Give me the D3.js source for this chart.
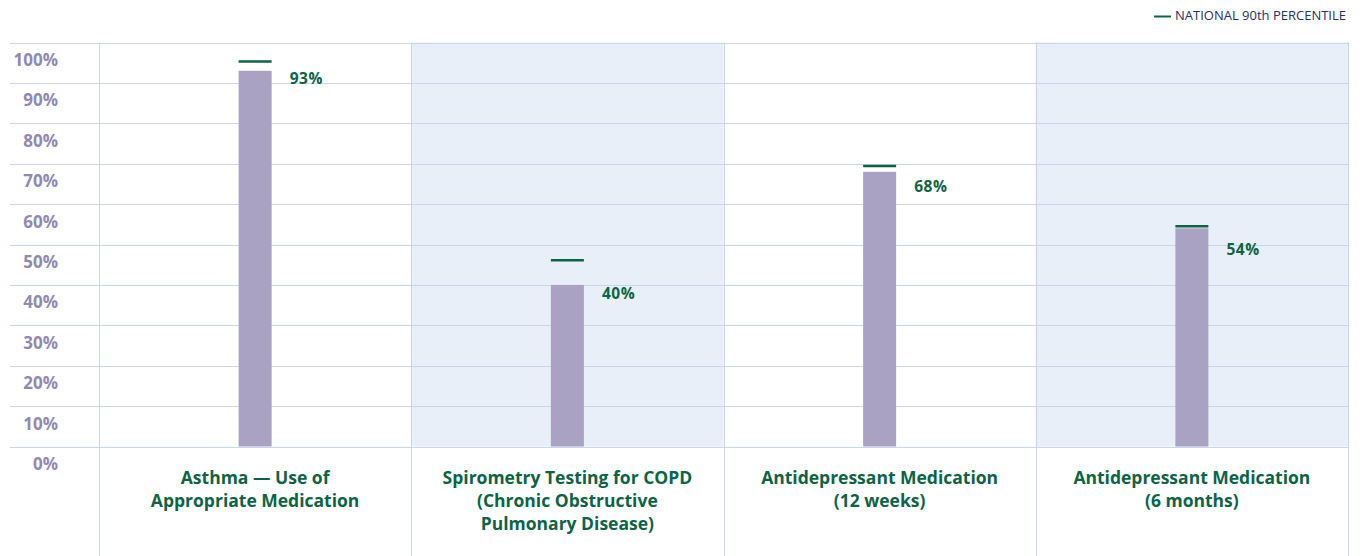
<!DOCTYPE html>
<html>
<head>
<meta charset="utf-8">
<script src="https://cdn.jsdelivr.net/npm/d3@7"></script>
<style>
  html, body { margin: 0; padding: 0; background: #ffffff; }
  svg { display: block; font-family: "Open Sans", "Noto Sans", sans-serif; }
</style>
</head>
<body>
<svg id="chart" width="1360" height="556"></svg>
<script>
// Measures (percent of members receiving care)
const categories = [
  "Asthma — Use of|Appropriate Medication",
  "Spirometry Testing for COPD|(Chronic Obstructive|Pulmonary Disease)",
  "Antidepressant Medication|(12 weeks)",
  "Antidepressant Medication|(6 months)"
];
const planValues = [93, 40, 68, 54];
const national90th = [95.3, 46.1, 69.4, 54.5];
const yTicks = [0, 10, 20, 30, 40, 50, 60, 70, 80, 90, 100];
const legendLabel = "NATIONAL 90th PERCENTILE";

const W = 1360, H = 556;
const plot = { left: 99, right: 1348, top: 42.5, bottom: 446.5 };
// baseline drop of each value label below its bar top (px)
const labelDrop = [13, 14, 20, 27];

const svg = d3.select("#chart");

const x = d3.scaleBand()
  .domain(categories)
  .range([plot.left, plot.right])
  .padding(0);

const y = d3.scaleLinear()
  .domain([0, 100])
  .range([plot.bottom, plot.top]);

const gridColor = "#c6d6ec";
const bandFill = "#e8eff9";
const green = "#0b6446";
const barColor = "#a9a2c2";
const barWidth = 33;

// alternating shaded bands
svg.append("g")
  .selectAll("rect")
  .data(categories.filter((d, i) => i % 2 === 1))
  .join("rect")
  .attr("x", d => x(d))
  .attr("y", plot.top)
  .attr("width", x.bandwidth())
  .attr("height", plot.bottom - plot.top)
  .attr("fill", bandFill);

// horizontal grid lines
svg.append("g")
  .selectAll("line")
  .data(yTicks)
  .join("line")
  .attr("x1", 10)
  .attr("x2", plot.right)
  .attr("y1", d => Math.round(y(d)) + 0.5)
  .attr("y2", d => Math.round(y(d)) + 0.5)
  .attr("stroke", gridColor)
  .attr("stroke-width", 1);

// vertical band separators
const seps = categories.map(d => x(d)).concat([plot.right]);
svg.append("g")
  .selectAll("line")
  .data(seps)
  .join("line")
  .attr("x1", d => Math.round(d) + 0.5)
  .attr("x2", d => Math.round(d) + 0.5)
  .attr("y1", plot.top)
  .attr("y2", H)
  .attr("stroke", gridColor)
  .attr("stroke-width", 1);

// y-axis tick labels (sit just below their grid line)
svg.append("g")
  .selectAll("text")
  .data(yTicks)
  .join("text")
  .attr("x", 58)
  .attr("y", d => y(d) + 19)
  .attr("text-anchor", "end")
  .attr("dominant-baseline", "middle")
  .attr("font-size", 17)
  .attr("font-weight", 700)
  .attr("fill", "#9189b3")
  .text(d => d + "%");

// bars
svg.append("g")
  .selectAll("rect")
  .data(categories)
  .join("rect")
  .attr("x", d => x(d) + x.bandwidth() / 2 - barWidth / 2)
  .attr("y", (d, i) => y(planValues[i]))
  .attr("width", barWidth)
  .attr("height", (d, i) => y(0) - y(planValues[i]))
  .attr("fill", barColor);

// national 90th percentile markers
svg.append("g")
  .selectAll("line")
  .data(categories)
  .join("line")
  .attr("x1", d => x(d) + x.bandwidth() / 2 - barWidth / 2)
  .attr("x2", d => x(d) + x.bandwidth() / 2 + barWidth / 2)
  .attr("y1", (d, i) => y(national90th[i]))
  .attr("y2", (d, i) => y(national90th[i]))
  .attr("stroke", green)
  .attr("stroke-width", 2.5);

// value labels
svg.append("g")
  .selectAll("text")
  .data(categories)
  .join("text")
  .attr("x", d => x(d) + x.bandwidth() / 2 + barWidth / 2 + 18)
  .attr("y", (d, i) => y(planValues[i]) + labelDrop[i])
  .attr("font-size", 15.5)
  .attr("font-weight", 700)
  .attr("letter-spacing", 0.6)
  .attr("fill", green)
  .text((d, i) => planValues[i] + "%");

// category labels
const catG = svg.append("g")
  .selectAll("text")
  .data(categories)
  .join("text")
  .attr("x", d => x(d) + x.bandwidth() / 2)
  .attr("y", 478)
  .attr("text-anchor", "middle")
  .attr("font-size", 17.5)
  .attr("font-weight", 700)
  .attr("fill", green);
catG.selectAll("tspan")
  .data(d => d.split("|"))
  .join("tspan")
  .attr("x", function () { return d3.select(this.parentNode).attr("x"); })
  .attr("dy", (d, i) => i === 0 ? "0.35em" : 23)
  .text(d => d);

// legend
const lg = svg.append("g");
lg.append("line")
  .attr("x1", 1154).attr("x2", 1171)
  .attr("y1", 16.5).attr("y2", 16.5)
  .attr("stroke", green)
  .attr("stroke-width", 2);
lg.append("text")
  .attr("x", 1175)
  .attr("y", 17)
  .attr("dominant-baseline", "middle")
  .attr("font-size", 13)
  .attr("fill", "#2d2d6a")
  .text(legendLabel);
</script>
</body>
</html>
